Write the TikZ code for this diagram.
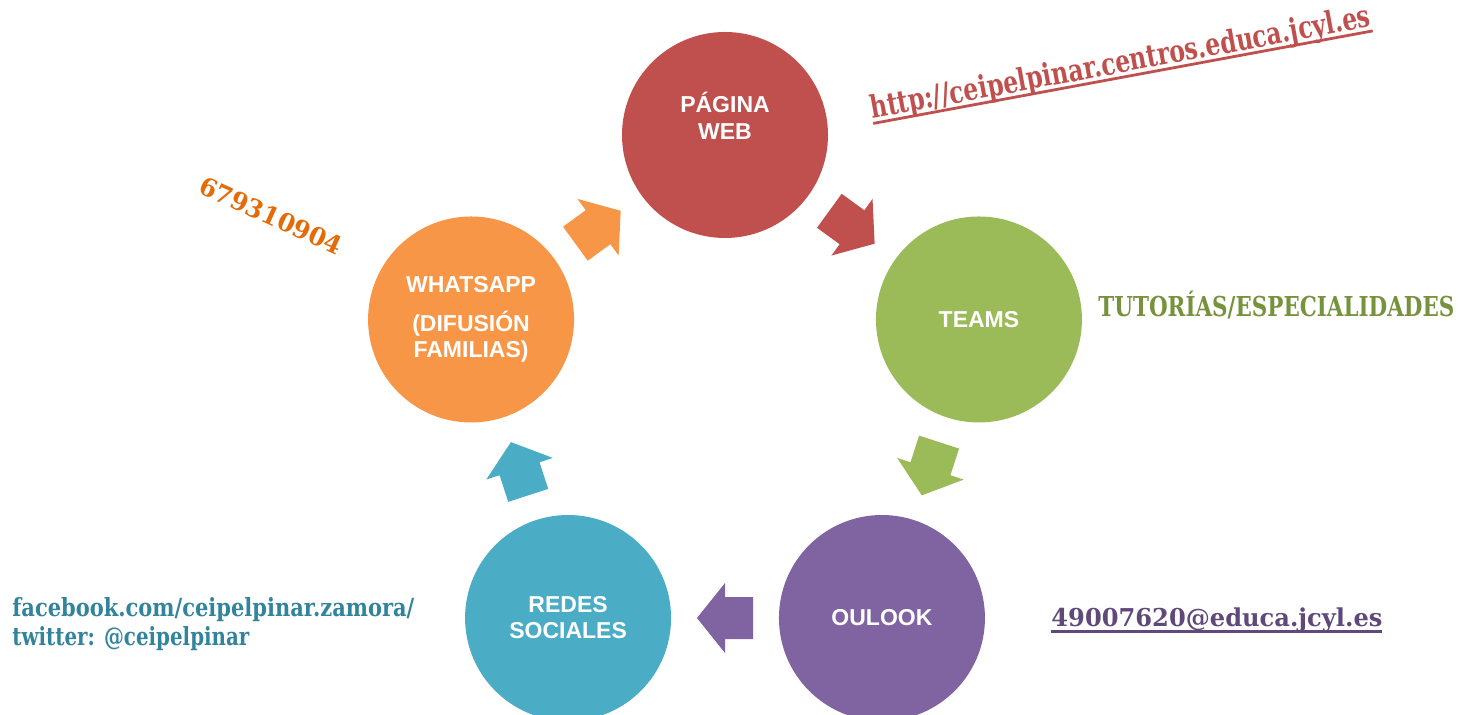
\documentclass[tikz,border=0pt]{standalone}
\usepackage{fontspec}
\usepackage{graphicx}
\setmainfont{DejaVu Serif}
\newfontfamily\arialfont{Liberation Sans}
\usetikzlibrary{calc}
\definecolor{webred}{HTML}{C0504D}
\definecolor{teamsgreen}{HTML}{9BBB59}
\definecolor{mailpurple}{HTML}{8064A2}
\definecolor{redesblue}{HTML}{4BACC6}
\definecolor{whatsorange}{HTML}{F79646}
\definecolor{phoneorange}{HTML}{E36C09}
\definecolor{tutgreen}{HTML}{76923C}
\definecolor{maildark}{HTML}{5F497A}
\definecolor{socialblue}{HTML}{31849B}
\newsavebox\ulbox
\newcommand{\fitto}[2]{\resizebox{#1}{\height}{#2}}
\newcommand{\underfit}[2]{\sbox\ulbox{\fitto{#1}{#2}}\rlap{\usebox\ulbox}\rule[-3pt]{\wd\ulbox}{1.4pt}}
\tikzset{
  bubble/.style={circle, minimum size=103pt, inner sep=0pt, text=white, align=center,
    font=\arialfont\bfseries\fontsize{11.5}{13}\selectfont},
  bubbletext/.style={inner sep=0pt, text=white, align=center,
    font=\arialfont\bfseries\fontsize{11.5}{13.5}\selectfont},
  contact/.style={inner sep=0pt, font=\bfseries\fontsize{#1}{#1}\selectfont},
}
\begin{document}
\begin{tikzpicture}[x=0.5pt, y=0.5pt]
\useasboundingbox (0,0) rectangle (1459,715);
\coordinate (c) at (725,313);
% circles
\node[bubble, fill=webred] (web) at ($(c)+(90:267)$) {};
\node[bubbletext] (webtext) at ([yshift=9.5pt]web.center) {PÁGINA\\WEB};
\node[bubble, fill=teamsgreen] (teams) at ($(c)+(18:267)$) {TEAMS};
\node[bubble, fill=mailpurple] (oulook) at ($(c)+(-54:267)$) {OULOOK};
\node[bubble, fill=redesblue] (redes) at ($(c)+(-126:267)$) {REDES\\SOCIALES};
\node[bubble, fill=whatsorange] (whatsapp) at ($(c)+(162:267)$) {WHATSAPP\\[6.5pt](DIFUSIÓN\\FAMILIAS)};
% block arrows
\foreach \from/\to/\ang/\col in {web/teams/-36/webred, teams/oulook/-108/teamsgreen,
  oulook/redes/180/mailpurple, redes/whatsapp/108/redesblue, whatsapp/web/36/whatsorange}
{
  \fill[\col, shift={($(\from.center)!.5!(\to.center)$)}, rotate=\ang]
    (-28,-21) -- (0,-21) -- (0,-35) -- (28,0) -- (0,35) -- (0,21) -- (-28,21) -- cycle;
}
% contacts
\node[contact=15.5, text=webred, rotate=10.5, anchor=base west] (url) at (872,596)
  {\underfit{254pt}{http://ceipelpinar.centros.educa.jcyl.es}};
\node[contact=12.5, text=phoneorange, rotate=-24.3] (phone) at (271,499) {\fitto{77pt}{679310904}};
\node[contact=13.7, text=tutgreen, anchor=base west] (tutorias) at (1098,398)
  {\fitto{178pt}{TUTORÍAS/ESPECIALIDADES}};
\node[contact=12.3, text=maildark, anchor=base west] (email) at (1051,88)
  {\underfit{165.5pt}{49007620@educa.jcyl.es}};
\node[contact=12.5, text=socialblue, anchor=base west] (facebook) at (12,98)
  {\fitto{201pt}{facebook.com/ceipelpinar.zamora/}};
\node[contact=12.5, text=socialblue, anchor=base west] (twitter) at (12,69)
  {\fitto{118.5pt}{twitter: @ceipelpinar}};
\end{tikzpicture}
\end{document}
